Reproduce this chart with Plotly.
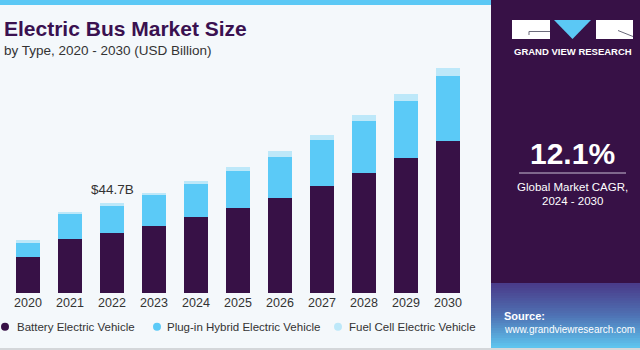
import plotly.graph_objects as go

years = ["2020", "2021", "2022", "2023", "2024", "2025", "2026", "2027", "2028", "2029", "2030"]
bev = [17.8, 26.9, 29.8, 33.3, 37.4, 42.0, 47.0, 52.8, 59.3, 66.8, 75.0]
phev = [7.4, 12.0, 13.4, 15.0, 16.3, 18.1, 20.5, 22.7, 25.6, 28.2, 32.3]
fcev = [0.8, 1.1, 1.5, 1.3, 1.8, 2.0, 2.5, 2.8, 3.0, 3.5, 3.8]
series_names = ["Battery Electric Vehicle", "Plug-in Hybrid Electric Vehicle", "Fuel Cell Electric Vehicle"]
colors = ["#371146", "#5BCAF7", "#BDE8F9"]
label_year = "2022"
label_text = "$44.7B"
label_value = 44.7

W, H = 640, 350
L, R, T, B = 7, 171, 60, 57
PW, PH = W - L - R, H - T - B
SCALE = 0.4945  # value per px
YMAX = PH * SCALE

def px(x):
    return (x - L) / PW

def py(y):
    return (H - B - y) / PH

FONT = "Liberation Sans"
BG = "#F4F8FB"
PURPLE = "#371146"

fig = go.Figure()
for vals, name, col in zip([bev, phev, fcev], series_names, colors):
    fig.add_trace(go.Bar(x=years, y=vals, name=name, marker=dict(color=col, line=dict(width=0)),
                         showlegend=False, hoverinfo="skip"))

shapes = []
annotations = []

def rect(x0, y0, x1, y1, color, layer="above"):
    shapes.append(dict(type="rect", xref="paper", yref="paper", x0=px(x0), x1=px(x1),
                       y0=py(y1), y1=py(y0), fillcolor=color, line=dict(width=0), layer=layer))

def text(x, y, s, size, color, xanchor="left", bold=False):
    annotations.append(dict(xref="paper", yref="paper", x=px(x), y=py(y), text=("<b>%s</b>" % s) if bold else s,
                            showarrow=False, xanchor=xanchor, yanchor="middle", borderpad=0,
                            font=dict(family=FONT, size=size, color=color)))

# top strip and right panel
rect(0, 0, 491, 5, "#5BC8F5")
rect(491, 0, 640, 283, PURPLE)
# gradient footer
top_c = (0x4A, 0x3C, 0x8A)
mid_c = (0x4F, 0x72, 0xB4)
bot_c = (0x5E, 0xC4, 0xEE)
n = 26
for i in range(n):
    f = i / (n - 1)
    if f < 0.5:
        g = f / 0.5
        c = tuple(int(top_c[k] + (mid_c[k] - top_c[k]) * g) for k in range(3))
    else:
        g = (f - 0.5) / 0.5
        c = tuple(int(mid_c[k] + (bot_c[k] - mid_c[k]) * g) for k in range(3))
    y0 = 283 + (348 - 283) * i / n
    y1 = 283 + (348 - 283) * (i + 1) / n + 0.5
    rect(491, y0, 640, y1, "rgb(%d,%d,%d)" % c)
# bottom gray line
rect(0, 348, 640, 350, "#D4D7DA")

# logo
rect(512, 20, 550, 39, "white")
rect(596, 20, 633, 39, "white")
shapes.append(dict(type="path", xref="paper", yref="paper",
                   path="M %f %f L %f %f L %f %f Z" % (px(554), py(20), px(591), py(20), px(572.5), py(39)),
                   fillcolor="#5BC8F5", line=dict(width=0)))
shapes.append(dict(type="path", xref="paper", yref="paper",
                   path="M %f %f L %f %f L %f %f" % (px(550), py(31.5), px(529), py(31.5), px(529), py(35)),
                   line=dict(color="#6A6A7A", width=1)))
shapes.append(dict(type="line", xref="paper", yref="paper", x0=px(618), y0=py(30.5), x1=px(633), y1=py(36.5),
                   line=dict(color="#6A6A7A", width=1)))
text(572.5, 51, "GRAND VIEW RESEARCH", 9.5, "white", xanchor="center", bold=True)

# CAGR block
text(572, 153, "12.1%", 30, "white", xanchor="center", bold=True)
shapes.append(dict(type="line", xref="paper", yref="paper", x0=px(519), y0=py(173), x1=px(626), y1=py(173),
                   line=dict(color="#C9BFD3", width=1)))
text(572, 187, "Global Market CAGR,", 11.5, "white", xanchor="center")
text(572, 201, "2024 - 2030", 11.5, "white", xanchor="center")

# source
text(503, 316, "Source:", 11, "white", bold=True)
text(503, 329, "www.grandviewresearch.com", 10, "white")

# title
text(3, 29, "Electric Bus Market Size", 21, "#3A1150", bold=True)
text(3, 50, "by Type, 2020 - 2030 (USD Billion)", 13.5, "#333333")

# legend
leg_x = [(5, 16), (157, 166), (338, 348)]
for (mx, tx), name, col in zip(leg_x, series_names, colors):
    shapes.append(dict(type="circle", xref="paper", yref="paper", x0=px(mx - 4), x1=px(mx + 4),
                       y0=py(326.7 + 4), y1=py(326.7 - 4), fillcolor=col, line=dict(width=0)))
    text(tx, 326.5, name, 11.5, "#333333")

# value label
annotations.append(dict(x=years.index(label_year), y=label_value, xref="x", yref="y", text=label_text,
                        showarrow=False, yanchor="bottom", yshift=4,
                        font=dict(family=FONT, size=13.5, color="#333333")))

fig.update_layout(
    width=W, height=H, margin=dict(l=L, r=R, t=T, b=B),
    paper_bgcolor=BG, plot_bgcolor=BG,
    barmode="stack", bargap=0.43,
    shapes=shapes, annotations=annotations,
    xaxis=dict(type="category", showgrid=False, showline=False, zeroline=False, ticks="", range=[-0.5, 10.5],
               tickfont=dict(family=FONT, size=12.5, color="#333333"), fixedrange=True),
    yaxis=dict(visible=False, range=[0, YMAX], fixedrange=True),
    showlegend=False,
)
fig.write_html("out.html", config={"displayModeBar": False})
